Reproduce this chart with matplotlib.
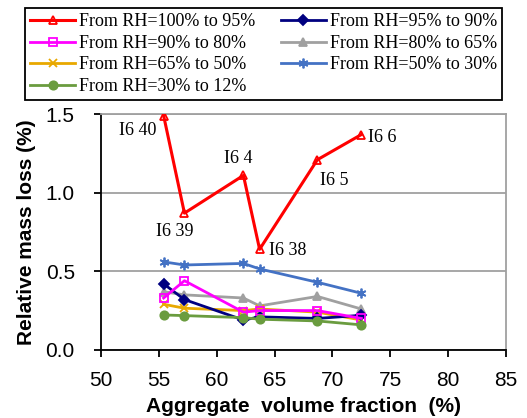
import numpy as np
import matplotlib.pyplot as plt

plt.rcParams['font.family'] = ['Liberation Sans', 'DejaVu Sans']

# aggregate volume fraction (%)
agg = [55.4, 57.2, 62.3, 63.7, 68.7, 72.5]

# relative mass loss (%) per RH step
rh_100_95 = [1.49, 0.87, 1.11, 0.64, 1.21, 1.37]
rh_95_90 = [0.42, 0.32, 0.19, 0.21, 0.20, 0.22]
rh_90_80 = [0.33, 0.44, 0.24, 0.25, 0.25, 0.20]
rh_80_65 = [0.37, 0.35, 0.33, 0.28, 0.34, 0.26]
rh_65_50 = [0.29, 0.265, 0.25, 0.26, 0.24, 0.19]
rh_50_30 = [0.56, 0.54, 0.55, 0.515, 0.43, 0.36]
rh_30_12 = [0.222, 0.218, 0.205, 0.195, 0.184, 0.159]

names = ["From RH=100% to 95%", "From RH=95% to 90%", "From RH=90% to 80%",
         "From RH=80% to 65%", "From RH=65% to 50%", "From RH=50% to 30%",
         "From RH=30% to 12%"]

specimens = ["I6 40", "I6 39", "I6 4", "I6 38", "I6 5", "I6 6"]
lbl_off = [(-19, -11), (-7, -13), (-4, 12), (20, -1), (12, -15), (15, -2)]

fig = plt.figure(figsize=(5.27, 4.18), dpi=100)
ax = fig.add_axes([0.192, 0.163, 0.768, 0.564])

series = [rh_100_95, rh_95_90, rh_90_80, rh_80_65, rh_65_50, rh_50_30, rh_30_12]
cols = ['#FF0000', '#000080', '#FF00FF', '#A0A0A0', '#E8A800', '#4472C4', '#6A9C3F']
mk = ['^', 'D', 's', '^', 'x', (6, 2, 0), 'o']
mfc = ['none', '#000080', 'none', '#A0A0A0', '#E8A800', '#4472C4', '#6A9C3F']
ms = [6, 5, 6, 6, 6, 7, 6]

# draw the low series first so the red one sits on top
order = [3, 5, 4, 1, 2, 6, 0]
handles = [None] * 7
for i in order:
    l, = ax.plot(agg, series[i], color=cols[i], lw=2.2 if i == 0 else 2,
                 marker=mk[i], markerfacecolor=mfc[i], markeredgecolor=cols[i],
                 markersize=ms[i], markeredgewidth=1.3, label=names[i], zorder=3 + (i == 0))
    handles[i] = l

for s, x, y, o in zip(specimens, agg, rh_100_95, lbl_off):
    ax.annotate(s, (x, y), xytext=o, textcoords='offset points', ha='center', va='center',
                fontsize=13, family=['Liberation Serif'])

ax.set_xlim(50, 85)
ax.set_ylim(0, 1.5)
ax.set_xticks(np.arange(50, 86, 5))
ax.set_yticks([0, 0.5, 1.0, 1.5])
ax.set_yticklabels(['0.0', '0.5', '1.0', '1.5'])
ax.yaxis.grid(True, color='#A0A0A0', lw=1.3)
ax.set_axisbelow(True)
ax.spines['top'].set_color('#A0A0A0')
ax.spines['right'].set_color('#A0A0A0')
for sp in ax.spines.values():
    sp.set_linewidth(1.3)
ax.tick_params(direction='out', length=5, width=1.3, labelsize=15)
ax.tick_params(axis='x', pad=10.5)
ax.tick_params(axis='y', pad=14)
ax.set_xlabel("Aggregate  volume fraction  (%)", fontsize=15, fontweight='bold', labelpad=5)
ax.set_ylabel("Relative mass loss (%)", fontsize=15, fontweight='bold', labelpad=7)

# legend is filled column by column; reorder so rows read like the original
leg_order = [0, 2, 4, 6, 1, 3, 5]
leg = fig.legend(handles=[handles[k] for k in leg_order], loc='upper left', ncol=2, mode='expand',
                 bbox_to_anchor=(0.047, 0.773, 0.906, 0.208),
                 prop={'family': 'Liberation Serif', 'size': 13},
                 frameon=True, fancybox=False, edgecolor='black', framealpha=1,
                 handlelength=2.5, handletextpad=0.2, labelspacing=0.25,
                 columnspacing=0.6, borderpad=0.3, borderaxespad=0)
leg.get_frame().set_linewidth(1.3)

fig.savefig('out.png', dpi=100)
